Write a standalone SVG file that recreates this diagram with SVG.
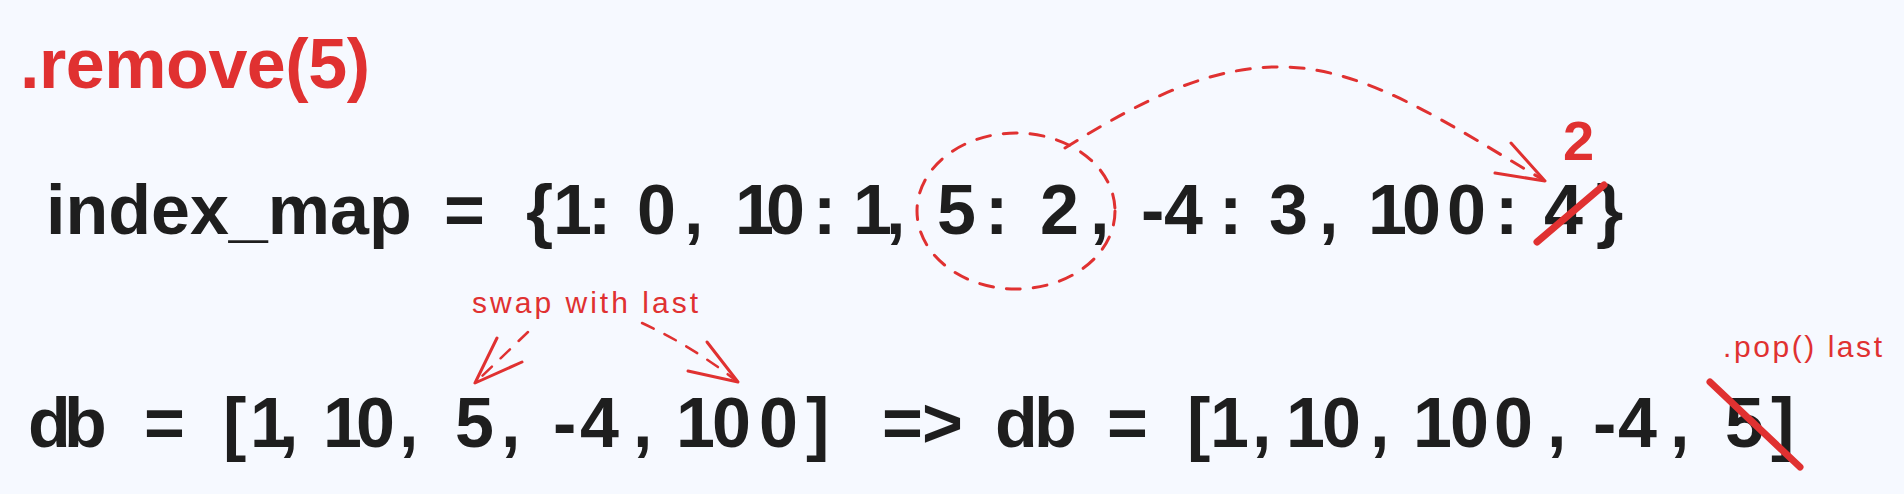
<svg xmlns="http://www.w3.org/2000/svg" width="1904" height="494" viewBox="0 0 1904 494">
<defs>
<style>
.bg{fill:#f6f9ff}
.code{font-family:"Liberation Sans",Arial,sans-serif;font-size:70px;font-weight:bold;fill:#1e1e1e}
.redtext{font-family:"Liberation Sans",Arial,sans-serif;fill:#e03131}
.dash{fill:none;stroke:#e03131;stroke-width:3;stroke-linecap:round;stroke-dasharray:14 13}
.dash2{fill:none;stroke:#e03131;stroke-width:2.5;stroke-linecap:round;stroke-dasharray:13 12}
.head{fill:none;stroke:#e03131;stroke-width:3;stroke-linecap:round;stroke-linejoin:round}
.strike{fill:none;stroke:#e03131;stroke-width:7;stroke-linecap:round}
</style>
</defs>
<rect class="bg" x="0" y="0" width="1904" height="494"/>

<g id="title">
<text class="redtext" x="20" y="88" font-size="70" font-weight="bold" textLength="350" lengthAdjust="spacing">.remove(5)</text>
</g>

<g id="index-map">
<text class="code" y="234"><tspan x="46">index_map </tspan><tspan x="444">= </tspan><tspan x="526 553 588">{1: </tspan><tspan x="637 684">0, </tspan><tspan x="735 766 813">10: </tspan><tspan x="853 886">1, </tspan><tspan x="937 985">5: </tspan><tspan x="1040 1090">2, </tspan><tspan x="1141 1164 1219">-4: </tspan><tspan x="1269 1319">3, </tspan><tspan x="1368 1402 1447 1495">100: </tspan><tspan x="1544 1596">4}</tspan></text>
</g>

<g id="highlight">
<ellipse class="dash" cx="1016" cy="211" rx="99" ry="78"/>
</g>

<g id="new-index">
<line class="strike" x1="1537" y1="242" x2="1604" y2="185"/>
<text class="redtext" x="1563" y="160" font-size="56" font-weight="bold">2</text>
</g>

<g id="swap-label">
<text class="redtext" x="472" y="313" font-size="30" textLength="226" lengthAdjust="spacing">swap with last</text>
</g>

<g id="db-row">
<text class="code" y="447"><tspan x="28 64">db </tspan><tspan x="144">= </tspan><tspan x="223 250 279">[1, </tspan><tspan x="323 356 399">10, </tspan><tspan x="455 501">5, </tspan><tspan x="553 580 633">-4, </tspan><tspan x="676 712 759 806">100] </tspan><tspan x="882 922">=&gt; </tspan><tspan x="995 1034">db </tspan><tspan x="1107">= </tspan><tspan x="1187 1210 1252">[1, </tspan><tspan x="1286 1322 1370">10, </tspan><tspan x="1413 1450 1494 1547">100, </tspan><tspan x="1593 1618 1670">-4, </tspan><tspan x="1725 1771">5]</tspan></text>
</g>

<g id="pop-label">
<text class="redtext" x="1723" y="357" font-size="30" textLength="159" lengthAdjust="spacing">.pop() last</text>
<line class="strike" x1="1710" y1="382" x2="1800" y2="467"/>
</g>

<g id="connectors">
<path class="dash" d="M1065,148 C1150,95 1215,65 1287,67 C1370,70 1450,125 1540,178"/>
<path class="head" d="M1511,143 L1545,181 L1495,173"/>
<path class="dash2" d="M528,332 L480,378"/>
<path class="head" d="M497,338 L475,383 L522,362"/>
<path class="dash2" d="M642,323 Q690,345 734,379"/>
<path class="head" d="M707,342 L738,382 L688,371"/>
</g>
</svg>
